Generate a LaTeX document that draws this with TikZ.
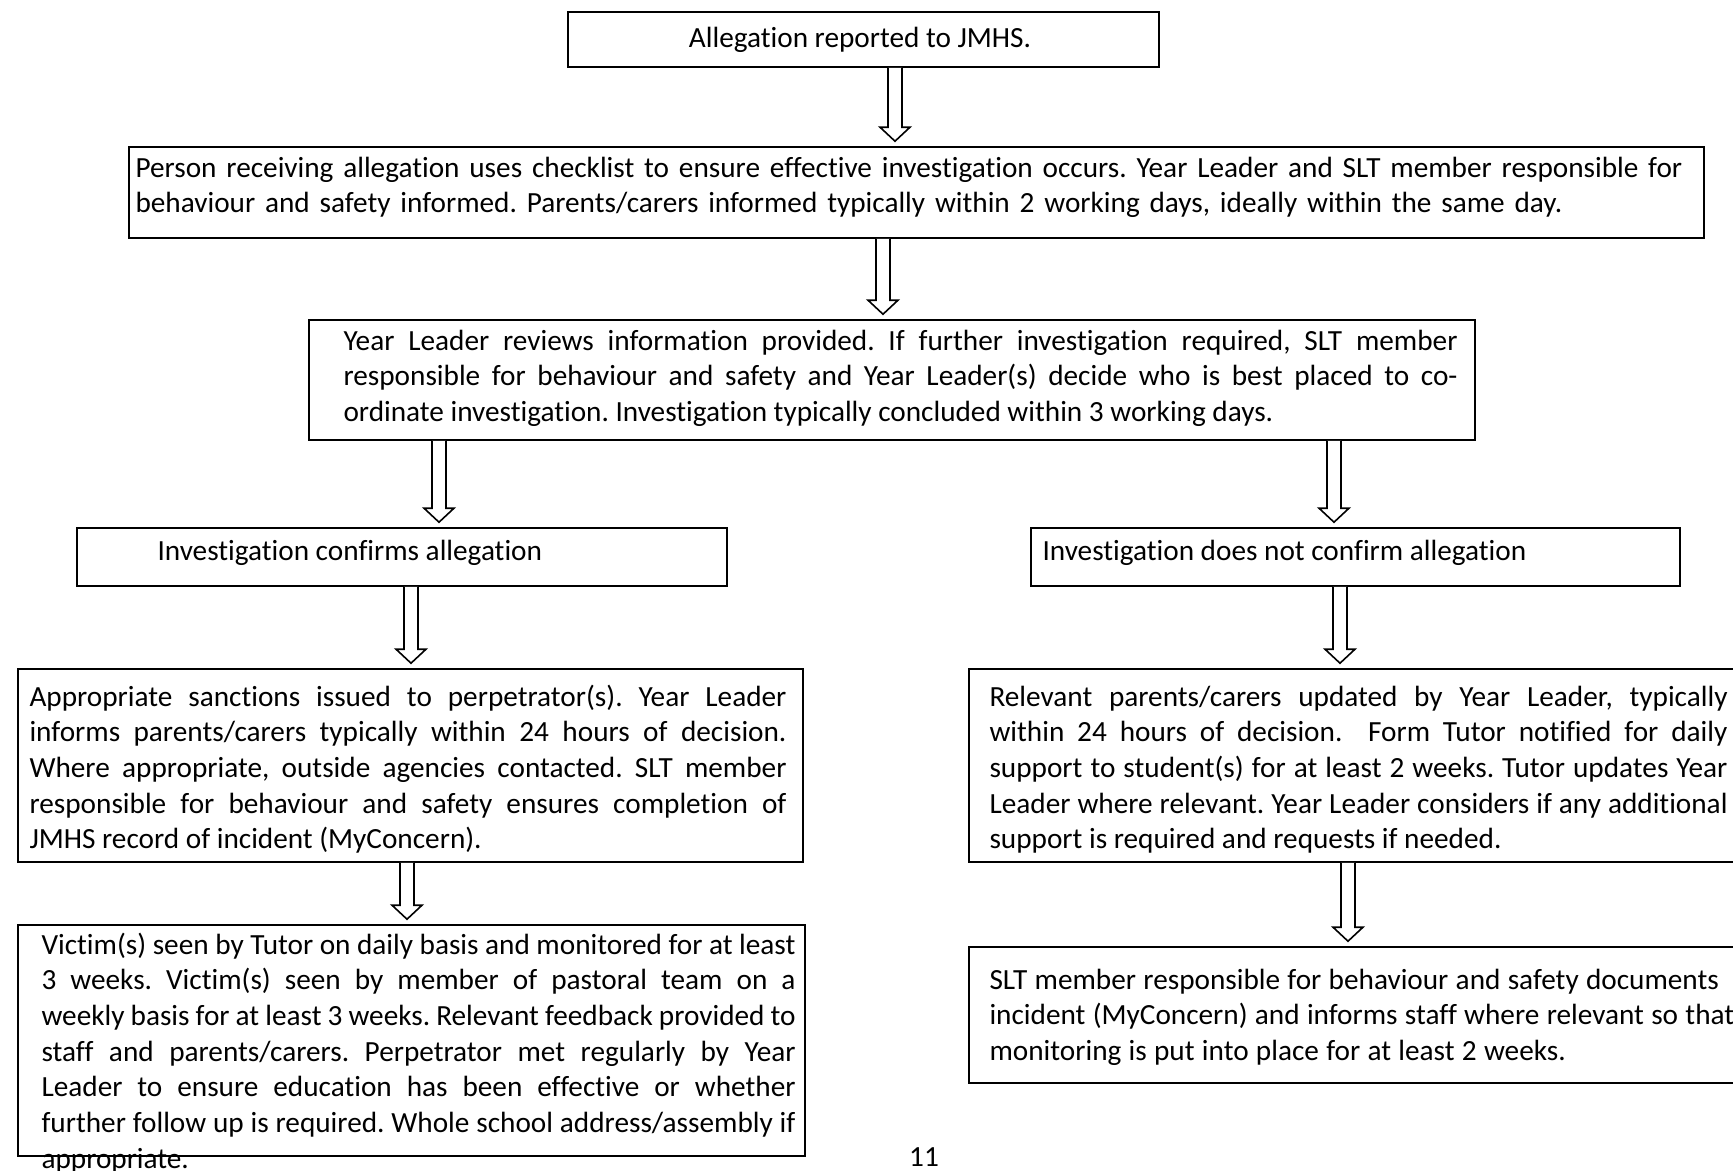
\documentclass[tikz,border=0pt]{standalone}
\usepackage{fontspec}
\setmainfont{Carlito}[Ligatures=NoCommon]
\usetikzlibrary{fit}
\newdimen\pxu
\pxu=0.376pt
\tolerance=10000
\hyphenpenalty=10000
\frenchspacing
\newcommand{\boxfont}{\fontsize{11}{13.43}\selectfont\frenchspacing}
\newcommand{\widespace}[1]{\spaceskip=#1 plus 2pt minus 0.3pt\relax}
% hollow block arrow from the bottom of #2 to the top of #3, at x=#1
\newcommand{\blockarrow}[3]{%
	\path (#1,0 |- #2.south) coordinate (s) (#1,0 |- #3.north) coordinate (e);
	\draw[hollow] ([xshift=-7\pxu]s) -- ([xshift=-7\pxu,yshift=19\pxu]e) -- ([xshift=-15\pxu,yshift=19\pxu]e) -- ([yshift=5\pxu]e) -- ([xshift=15\pxu,yshift=19\pxu]e) -- ([xshift=7\pxu,yshift=19\pxu]e) -- ([xshift=7\pxu]s);
}
\begin{document}
\begin{tikzpicture}[x=0.376pt,y=-0.376pt,
		box/.style={draw, line width=0.6pt, inner sep=0pt},
		hollow/.style={draw, fill=white, line width=0.6pt, line join=miter},
		txt/.style={inner sep=0pt, anchor=base west, font=\boxfont},
		just/.style={txt, align=justify, text width=#1\pxu},
		lefttxt/.style={txt, align=left, text width=#1\pxu}]
	\useasboundingbox (0,0) rectangle (1733,1171);
	\fill[white] (0,0) rectangle (1733,1171);
	\clip (0,0) rectangle (1733,1171);
	
	% boxes
	\node[box, fit={(568,12) (1159,67)}] (report) {};
	\node[box, fit={(129,147) (1704,238)}] (receive) {};
	\node[box, fit={(309,320) (1475,440)}] (review) {};
	\node[box, fit={(77,528) (727,586)}] (confirm) {};
	\node[box, fit={(1031,528) (1680,586)}] (notconfirm) {};
	\node[box, fit={(18,669) (803,862)}] (sanction) {};
	\node[box, fit={(969,669) (1760,862)}] (update) {};
	\node[box, fit={(18,925) (805,1156)}] (victim) {};
	\node[box, fit={(969,947) (1760,1083)}] (document) {};
	
	% texts
	\node[txt, anchor=base] (reporttxt) at (860,47) {Allegation reported to JMHS.};
	\node[lefttxt=1600] (receivetxt) at (135,177) {\widespace{3.7pt}Person receiving allegation uses checklist to ensure effective investigation occurs. Year Leader and SLT member responsible for\\ behaviour and safety informed. Parents/carers informed typically within 2 working days, ideally within the same day.};
	\node[just=1114] (reviewtxt) at (343,350) {Year Leader reviews information provided. If further investigation required, SLT member\linebreak responsible for behaviour and safety and Year Leader(s) decide who is best placed to co-\linebreak ordinate investigation. Investigation typically concluded within 3 working days.};
	\node[txt] (confirmtxt) at (157,560) {Investigation confirms allegation};
	\node[txt] (notconfirmtxt) at (1042,560) {Investigation does not confirm allegation};
	\node[just=757] (sanctiontxt) at (29,706) {Appropriate sanctions issued to perpetrator(s). Year Leader\linebreak informs parents/carers typically within 24 hours of decision.\linebreak Where appropriate, outside agencies contacted. SLT member\linebreak responsible for behaviour and safety ensures completion of\linebreak JMHS record of incident (MyConcern).};
	\node[just=738] (updatetxt) at (989,706) {Relevant parents/carers updated by Year Leader, typically\linebreak within 24 hours of decision.\ \ Form Tutor notified for daily\linebreak support to student(s) for at least 2 weeks. Tutor updates Year\linebreak Leader where relevant. Year Leader considers if any additional\linebreak support is required and requests if needed.};
	\node[just=754] (victimtxt) at (41,954) {Victim(s) seen by Tutor on daily basis and monitored for at least\linebreak 3 weeks. Victim(s) seen by member of pastoral team on a\linebreak weekly basis for at least 3 weeks. Relevant feedback provided to\linebreak staff and parents/carers. Perpetrator met regularly by Year\linebreak Leader to ensure education has been effective or whether\linebreak further follow up is required. Whole school address/assembly if\linebreak appropriate.};
	\node[lefttxt=780] (documenttxt) at (989,989) {\widespace{2.75pt}SLT member responsible for behaviour and safety documents\\ incident (MyConcern) and informs staff where relevant so that\\ monitoring is put into place for at least 2 weeks.};
	\node[txt, anchor=base] (pagenum) at (924,1166) {11};
	
	% arrows
	\blockarrow{895}{report}{receive}
	\blockarrow{883}{receive}{review}
	\blockarrow{439}{review}{confirm}
	\blockarrow{1334}{review}{notconfirm}
	\blockarrow{411}{confirm}{sanction}
	\blockarrow{1340}{notconfirm}{update}
	\blockarrow{407}{sanction}{victim}
	\blockarrow{1348}{update}{document}
\end{tikzpicture}
\end{document}
